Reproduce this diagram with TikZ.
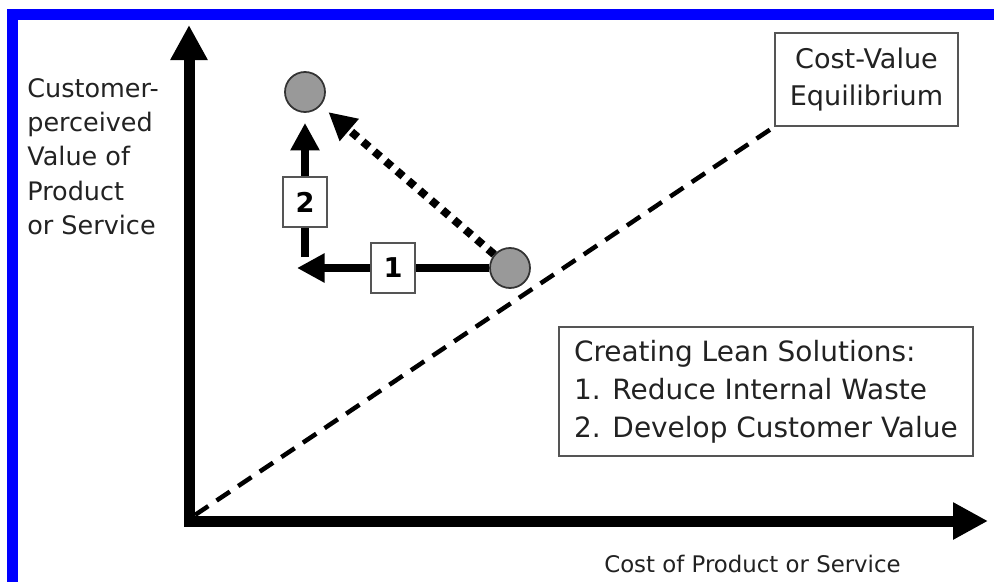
\documentclass[tikz,border=0pt]{standalone}
\usepackage{fontspec}
\setmainfont{DejaVu Sans}
\usepackage{xcolor}
\usetikzlibrary{arrows.meta}

\definecolor{ink}{HTML}{222222}
\definecolor{boxline}{HTML}{555555}
\definecolor{ball}{HTML}{999999}

\begin{document}
\begin{tikzpicture}[
	axis/.style={line width=0.22cm, -{Triangle[length=0.7cm,width=0.7cm]}},
	move/.style={line width=0.16cm, -{Triangle[length=0.55cm,width=0.55cm]}},
	dot/.style={circle, draw=black!80, line width=1pt, fill=ball, minimum size=0.8cm, inner sep=0pt},
	numbox/.style={draw=boxline, line width=1pt, fill=white, minimum width=0.88cm, minimum height=1.0cm, inner sep=0pt, font=\fontsize{15.5}{15.5}\selectfont\bfseries},
	textbox/.style={draw=boxline, line width=1pt, fill=white, align=left, text=ink}
	]
	\useasboundingbox (0,0) rectangle (19.88,11.62);
	\fill[white] (0,0) rectangle (19.88,11.62);
	\draw[blue, line width=0.22cm] (0.26,-0.3) rectangle (20.5,11.33);

	% axes and equilibrium line
	\coordinate (O) at (3.78,1.20);
	\coordinate (xend) at (19.76,1.20);
	\coordinate (yend) at (3.78,11.12);
	\coordinate (dstart) at (3.90,1.32);
	\node[textbox, align=center, minimum width=3.66cm, minimum height=1.86cm, font=\fontsize{15.4}{21}\selectfont] (eq) at (17.33,10.03) {Cost-Value\\Equilibrium};
	\draw[line width=0.09cm, dash pattern=on 0.32cm off 0.2cm] (dstart) -- (eq.south west);
	\draw[axis] (O) -- (xend);
	\draw[axis] ([yshift=-0.11cm]O) -- (yend);

	% axis labels
	\node[anchor=north west, align=left, inner sep=0pt, text=ink, font=\fontsize{14.5}{19.4}\selectfont] (ylab) at (0.54,10.05) {Customer-\\perceived\\Value of\\Product\\or Service};
	\node[anchor=base, inner sep=0pt, text=ink, font=\fontsize{13}{13}\selectfont] (xlab) at (15.05,0.18) {Cost of Product or Service};

	% the two positions and the moves
	\node[dot] (cur) at (10.20,6.26) {};
	\node[dot] (goal) at (6.10,9.78) {};
	\coordinate (turn) at (5.94,6.26);
	\coordinate (rise) at (6.10,6.48);
	\draw[move] (cur) -- (turn) node[numbox, pos=0.5] (one) {1};
	\draw[move, shorten >=0.2cm] (rise) -- (goal) node[numbox, pos=0.38] (two) {2};
	\draw[move, dash pattern=on 0.16cm off 0.14cm, shorten >=0.2cm] (cur) -- (goal);

	% legend
	\node[textbox, anchor=north west, minimum width=8.28cm, minimum height=2.58cm, inner xsep=0.24cm, font=\fontsize{15.9}{21.6}\selectfont] (lean) at (11.16,5.10) {Creating Lean Solutions:\\1. Reduce Internal Waste\\2. Develop Customer Value};
\end{tikzpicture}
\end{document}
